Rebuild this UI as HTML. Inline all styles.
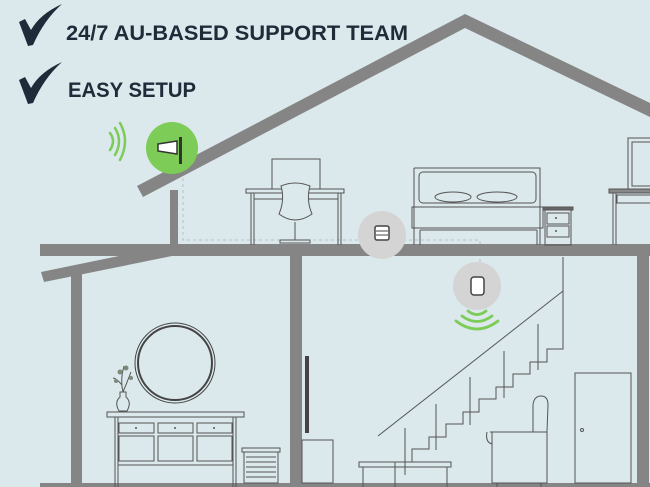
<!DOCTYPE html>
<html><head><meta charset="utf-8"><style>
html,body{margin:0;padding:0;background:#dbe8ec;}
svg{display:block}
</style></head><body>
<svg width="650" height="487" viewBox="0 0 650 487" xmlns="http://www.w3.org/2000/svg">
<rect width="650" height="487" fill="#dbe8ec"/>
<!-- text -->
<g fill="#1f2b38">
<path d="M19 22 L25 19 L31 30 Q40 14 62 4 Q44 20 33 45 L28 46 Z"/>
<path d="M19 80 L25 77 L31 88 Q40 72 62 62 Q44 78 33 103 L28 104 Z"/>
</g>
<text x="66" y="40" font-family="Liberation Sans, sans-serif" font-weight="bold" font-size="21" fill="#1f2b38" textLength="342" lengthAdjust="spacingAndGlyphs">24/7 AU-BASED SUPPORT TEAM</text>
<text x="68" y="97" font-family="Liberation Sans, sans-serif" font-weight="bold" font-size="21" fill="#1f2b38" textLength="128" lengthAdjust="spacingAndGlyphs">EASY SETUP</text>

<!-- dotted cables -->
<g stroke="#b8c2c6" stroke-width="1" stroke-dasharray="3,3" fill="none">
<path d="M183 178 V240 H480 V285"/>
</g>

<!-- structure -->
<g fill="#858585">
<polygon points="137,186 465,14 650,103 650,117 465,28 143,197"/>
<rect x="170" y="190" width="8" height="60"/>
<rect x="40" y="244" width="610" height="12"/>
<polygon points="41,272 172,245 172,256 44,282"/>
<rect x="71" y="272" width="11" height="215"/>
<rect x="290" y="250" width="12" height="237"/>
<rect x="637" y="250" width="12" height="237"/>
<rect x="40" y="483" width="610" height="4"/>
</g>

<!-- outdoor antenna -->
<circle cx="172" cy="148" r="26" fill="#7ccc57"/>
<path d="M158 144 L177 141 L177 154 L158 151 Z" fill="#fff" stroke="#333" stroke-width="1.5"/>
<rect x="179" y="137" width="3" height="27" fill="#333"/>
<g fill="none" stroke="#7ccc57" stroke-width="2.5" stroke-linecap="round">
<path d="M110 133 Q116 141 110 150"/>
<path d="M115 128 Q123 141 115 155"/>
<path d="M120 123 Q130 141 120 160"/>
</g>

<!-- upper floor furniture -->
<g fill="none" stroke="#555" stroke-width="1">
<rect x="272" y="159" width="48" height="30"/>
<rect x="246" y="189" width="98" height="4"/>
<path d="M251 193 V245 M254 193 V245 M338 193 V245 M341 193 V245 M254 199 H338"/>
<path d="M281 186 Q295 180 310 186 Q306 200 312 214 Q295 226 279 214 Q285 200 281 186 Z" fill="#dbe8ec"/>
<path d="M295 222 V240 M280 240 H310 V243 H280 Z"/>
<!-- bed -->
<path d="M414 168 H540 V245 M414 168 V245"/>
<rect x="419" y="172" width="117" height="31" rx="4"/>
<ellipse cx="453" cy="197" rx="18" ry="5"/>
<ellipse cx="497" cy="197" rx="20" ry="5"/>
<path d="M412 207 H543 V228 H412 Z M420 230 V245 M537 230 V245 M420 230 H537"/>
<!-- nightstand -->
<rect x="543" y="207" width="30" height="3" fill="#666"/>
<rect x="545" y="210" width="26" height="35"/>
<rect x="547" y="213" width="22" height="11"/><rect x="547" y="226" width="22" height="11"/>
<!-- right desk -->
<rect x="628" y="138" width="24" height="51"/>
<rect x="632" y="142" width="20" height="44"/>
<rect x="609" y="189" width="45" height="4" fill="#888"/>
<rect x="617" y="195" width="35" height="8"/>
<path d="M613 193 V245 M616 193 V245"/>
</g>
<circle cx="556" cy="218" r="1" fill="#555"/><circle cx="556" cy="231" r="1" fill="#555"/>

<!-- indoor unit upstairs -->
<circle cx="382" cy="235" r="24" fill="#d4d4d4"/>
<rect x="375" y="226" width="14" height="14" rx="2" fill="#fff" stroke="#444" stroke-width="1.5"/>
<path d="M376 231 H388 M376 235 H388" stroke="#444"/>

<!-- indoor unit downstairs -->
<circle cx="477" cy="286" r="24" fill="#d4d4d4"/>
<rect x="471" y="277" width="13" height="18" rx="3" fill="#fff" stroke="#444" stroke-width="1.5"/>
<g fill="none" stroke="#7ccc57" stroke-width="2.8" stroke-linecap="round">
<path d="M468 311 Q477 318 486 311"/>
<path d="M462 316 Q477 327 492 316"/>
<path d="M456 321 Q477 337 498 321"/>
</g>

<!-- lower left room -->
<g fill="none" stroke="#444">
<circle cx="175" cy="363" r="40" stroke-width="1"/>
<circle cx="175" cy="363" r="37" stroke-width="2"/>
</g>
<g fill="none" stroke="#555" stroke-width="1">
<rect x="107" y="412" width="137" height="5"/>
<path d="M115 417 V487 M118 417 V487 M233 417 V487 M236 417 V487 M118 465 H233"/>
<rect x="119" y="423" width="35" height="10"/><rect x="158" y="423" width="35" height="10"/><rect x="197" y="423" width="35" height="10"/>
<rect x="119" y="436" width="35" height="25"/><rect x="158" y="436" width="35" height="25"/><rect x="197" y="436" width="35" height="25"/>
<path d="M119 411 Q114 402 120 397 V392 H126 V397 Q132 402 127 411 Z"/>
<path d="M123 392 Q120 380 124 366 M123 392 Q128 380 131 372 M122 385 Q116 378 113 378"/>
<rect x="242" y="448" width="38" height="4"/>
<rect x="244" y="452" width="34" height="31"/>
<path d="M246 457 H276 M246 462 H276 M246 467 H276 M246 472 H276 M246 477 H276"/>
</g>
<g fill="#555"><circle cx="136" cy="428" r="1"/><circle cx="175" cy="428" r="1"/><circle cx="214" cy="428" r="1"/></g>
<g fill="#7a8a7a"><circle cx="120" cy="372" r="2.5"/><circle cx="126" cy="368" r="2.5"/><circle cx="131" cy="378" r="2"/><circle cx="116" cy="381" r="2"/></g>

<!-- lower right room -->
<rect x="305" y="356" width="4" height="77" fill="#444"/>
<g fill="none" stroke="#555" stroke-width="1">
<rect x="302" y="440" width="31" height="43"/>
<path d="M563 257 V337"/>
<path d="M378 436 L563 291"/>
<path d="M395 487 V462 H412 V449 H429 V437 H446 V424 H463 V412 H479 V399 H496 V387 H513 V374 H530 V362 H547 V349 H563 V337"/>
<path d="M405 428 V475 M436 404 V450 M470 377 V425 M504 351 V398 M538 324 V370"/>
<rect x="359" y="462" width="92" height="5"/>
<path d="M363 467 V487 M447 467 V487"/>
<rect x="575" y="373" width="56" height="110"/>
<circle cx="582" cy="430" r="1.5"/>
<path d="M490 432 H547 V483 H492 V432 Z"/>
<path d="M533 432 V405 Q534 396 541 396 Q548 396 548 405 L547 432"/>
<path d="M487 432 Q485 442 492 444 M497 483 V487 M541 483 V487"/>
</g>
</svg>
</body></html>
